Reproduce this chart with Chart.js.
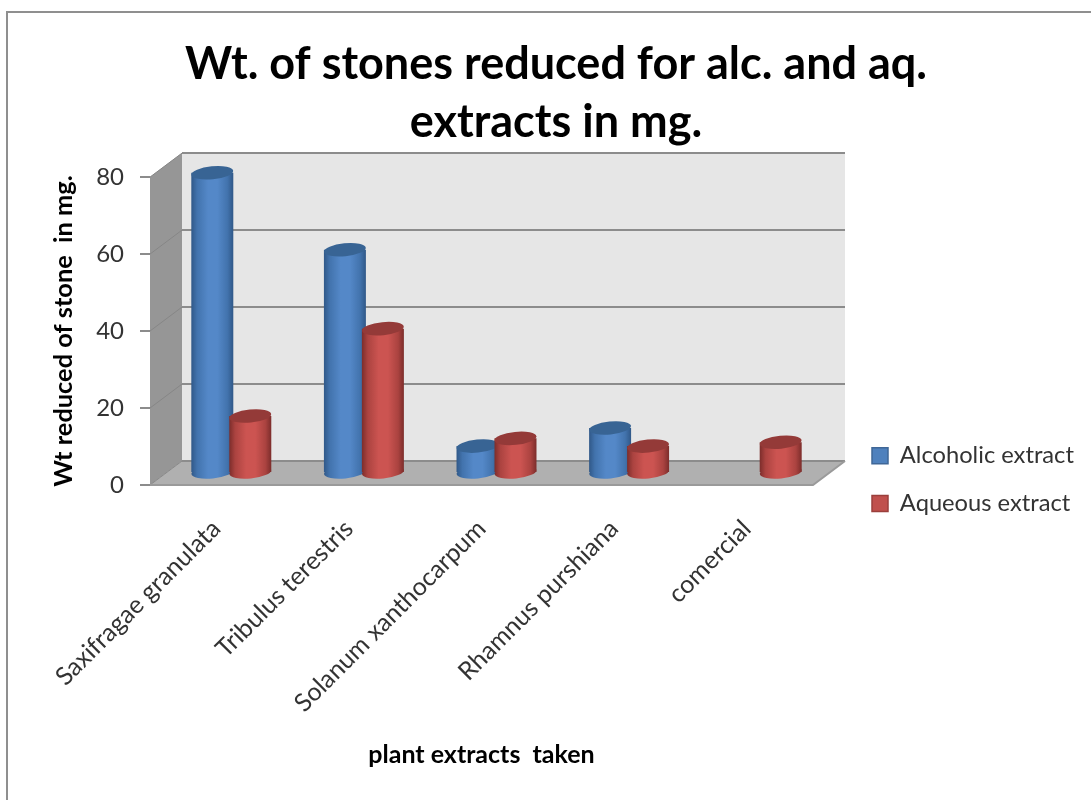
<!DOCTYPE html>
<html>
<head>
<meta charset="utf-8">
<title>Wt. of stones reduced</title>
<script src="https://cdn.jsdelivr.net/npm/chart.js@4/dist/chart.umd.min.js"></script>
<style>
  html, body { margin: 0; padding: 0; background: #fff; overflow: hidden; }
  #frame { position: absolute; left: 6px; top: 11px; width: 1200px; height: 900px;
           border-left: 2px solid #8f8f8f; border-top: 2px solid #8f8f8f; }
  #chart { position: absolute; left: 7px; top: 12px; }
</style>
</head>
<body>
<div id="frame"></div>
<canvas id="chart" width="1098" height="788"></canvas>
<script>
const categories = ['Saxifragae granulata', 'Tribulus terestris', 'Solanum xanthocarpum', 'Rhamnus purshiana', 'comercial'];
const alcoholic = [78, 58, 7, 11.7, null];
const aqueous = [14.8, 37.5, 9, 7, 8];
const seriesNames = ['Alcoholic extract', 'Aqueous extract'];
const titleLines = ['Wt. of stones reduced for alc. and aq.', 'extracts in mg.'];
const yTitle = 'Wt reduced of stone  in mg.';
const xTitle = 'plant extracts  taken';

// depth of the fake 3d box, and how far into it the cylinders stand
const DEPTH_X = 32, DEPTH_Y = 24;
const BAR_SHIFT_X = 15, BAR_SHIFT_Y = -12;
const BAR_GAP = 38;
const CAP_RY = 6.5, CAP_TILT = -0.1;

const palette = [
    { flat: '#4f81bd', edge: '#305888', shade: '#4273ad', mid: '#5488c8', cap: '#386494', line: '#3f6797' },
    { flat: '#c0504d', edge: '#7c2d2b', shade: '#ab4340', mid: '#cc5451', cap: '#943a38', line: '#9a3f3c' },
];

function bodyGradient(chart, center, halfWidth, colors) {
    const g = chart.ctx.createLinearGradient(center - halfWidth, 0, center + halfWidth, 0);
    g.addColorStop(0, colors.edge);
    g.addColorStop(0.14, colors.shade);
    g.addColorStop(0.4, colors.mid);
    g.addColorStop(0.62, colors.mid);
    g.addColorStop(0.86, colors.shade);
    g.addColorStop(1, colors.edge);
    return g;
}

function barFill(datasetIndex) {
    return (ctx) => {
        const colors = palette[datasetIndex];
        const side = datasetIndex === 0 ? -1 : 1;
        const center = ctx.chart.scales.x.getPixelForTick(ctx.dataIndex) + side * BAR_GAP / 2;
        return bodyGradient(ctx.chart, center, 21, colors);
    };
}

function drawCylinderEnds(chart, datasetIndex) {
    const { ctx } = chart;
    const colors = palette[datasetIndex];
    chart.getDatasetMeta(datasetIndex).data.forEach((bar, i) => {
        if (chart.data.datasets[datasetIndex].data[i] === null) return;
        const { x, y, base, width } = bar.getProps(['x', 'y', 'base', 'width'], true);
        const rx = width / 2;
        ctx.fillStyle = bodyGradient(chart, x, rx, colors);
        ctx.beginPath();
        ctx.ellipse(x, base, rx, CAP_RY, CAP_TILT, 0, Math.PI * 2);
        ctx.fill();
        ctx.fillStyle = colors.cap;
        ctx.beginPath();
        ctx.ellipse(x, y, rx, CAP_RY, CAP_TILT, 0, Math.PI * 2);
        ctx.fill();
    });
}

const box3d = {
    id: 'box3d',
    beforeLayout(chart) {
        // legend takes the whole strip right of the plot so the plot edge stays put
        const legend = chart.legend;
        if (legend._pinned) return;
        const fit = legend.fit;
        legend.fit = function () {
            fit.call(this);
            this.width = 292;
        };
        legend._pinned = true;
    },
    afterLayout(chart) {
        const legend = chart.legend;
        legend.left = 841;
        legend.right = 1098;
        legend.top = 408;
        legend.bottom = 640;
    },
    beforeDatasetsDraw(chart) {
        const { ctx, chartArea: a, scales: { y } } = chart;
        const backL = a.left + DEPTH_X, backR = a.right + DEPTH_X;
        const backB = a.bottom - DEPTH_Y, backT = a.top - DEPTH_Y;
        ctx.save();
        ctx.fillStyle = '#e6e6e6';
        ctx.fillRect(backL, backT, backR - backL, backB - backT);
        ctx.fillStyle = '#969696';
        ctx.beginPath();
        ctx.moveTo(a.left, a.top);
        ctx.lineTo(backL, backT);
        ctx.lineTo(backL, backB);
        ctx.lineTo(a.left, a.bottom);
        ctx.closePath();
        ctx.fill();
        ctx.fillStyle = '#b0b0b0';
        ctx.beginPath();
        ctx.moveTo(a.left, a.bottom);
        ctx.lineTo(backL, backB);
        ctx.lineTo(backR, backB);
        ctx.lineTo(a.right, a.bottom);
        ctx.closePath();
        ctx.fill();

        y.ticks.forEach((t) => {
            const py = y.getPixelForValue(t.value);
            // faint on the side wall, heavier along the back wall
            ctx.strokeStyle = '#868686';
            ctx.lineWidth = 1;
            ctx.beginPath();
            ctx.moveTo(a.left, py);
            ctx.lineTo(backL, py - DEPTH_Y);
            ctx.stroke();
            ctx.strokeStyle = '#8c8c8c';
            ctx.lineWidth = 2;
            ctx.beginPath();
            ctx.moveTo(backL, py - DEPTH_Y);
            ctx.lineTo(backR, py - DEPTH_Y);
            ctx.stroke();
        });
        ctx.strokeStyle = '#9a9a9a';
        ctx.lineWidth = 2;
        ctx.beginPath();
        ctx.moveTo(a.left, a.bottom);
        ctx.lineTo(a.right, a.bottom);
        ctx.lineTo(backR, backB);
        ctx.stroke();
        ctx.restore();
    },
    beforeDatasetDraw(chart, args) {
        // the library paints the first series last, here red has to sit in front
        if (args.index === 1) return false;
        chart.ctx.save();
        chart.ctx.translate(BAR_SHIFT_X, BAR_SHIFT_Y);
    },
    afterDatasetDraw(chart, args) {
        drawCylinderEnds(chart, 0);
        chart.getDatasetMeta(1).controller.draw();
        drawCylinderEnds(chart, 1);
        chart.ctx.restore();
    },
};

new Chart(document.getElementById('chart'), {
    type: 'bar',
    data: {
        labels: categories,
        datasets: [
            { label: seriesNames[0], data: alcoholic, backgroundColor: barFill(0), borderWidth: 0, clip: false },
            { label: seriesNames[1], data: aqueous, backgroundColor: barFill(1), borderWidth: 0, clip: false },
        ],
    },
    plugins: [box3d],
    options: {
        responsive: false,
        animation: false,
        devicePixelRatio: 1,
        categoryPercentage: 0.573,
        barPercentage: 1.105,
        plugins: {
            tooltip: { enabled: false },
            title: {
                display: true,
                text: titleLines,
                color: '#000',
                font: { family: 'Lato', size: 45, weight: 'bold', lineHeight: 1.29 },
                padding: { top: 23, bottom: 26 },
            },
            legend: {
                position: 'right',
                align: 'start',
                labels: {
                    color: '#333',
                    font: { family: 'Lato', size: 23.7 },
                    boxWidth: 16,
                    boxHeight: 16,
                    padding: 24,
                    generateLabels: (chart) => Chart.defaults.plugins.legend.labels.generateLabels(chart).map((item, i) => ({
                        ...item,
                        fillStyle: palette[i].flat,
                        strokeStyle: palette[i].line,
                        lineWidth: 1.5,
                    })),
                },
            },
        },
        scales: {
            x: {
                afterFit: (s) => { s.height = 315; },
                grid: { display: false },
                border: { display: false },
                ticks: { color: '#333', font: { family: 'Lato', size: 25 }, minRotation: 45, maxRotation: 45, autoSkip: false, padding: 21 },
                title: { display: true, text: xTitle, color: '#000', font: { family: 'Lato', size: 25, weight: 'bold' }, padding: { top: 0, bottom: 30 } },
            },
            y: {
                min: 0,
                max: 80,
                afterFit: (s) => { s.width = 143; },
                grid: { drawOnChartArea: false, drawTicks: true, tickLength: 10, color: '#8c8c8c', lineWidth: 2 },
                border: { display: false },
                ticks: { stepSize: 20, color: '#333', font: { family: 'Lato', size: 24 }, padding: 16 },
                title: { display: true, text: yTitle, color: '#000', font: { family: 'Lato', size: 25.4, weight: 'bold' }, padding: { top: 42, bottom: 0 } },
            },
        },
    },
});
</script>
</body>
</html>
